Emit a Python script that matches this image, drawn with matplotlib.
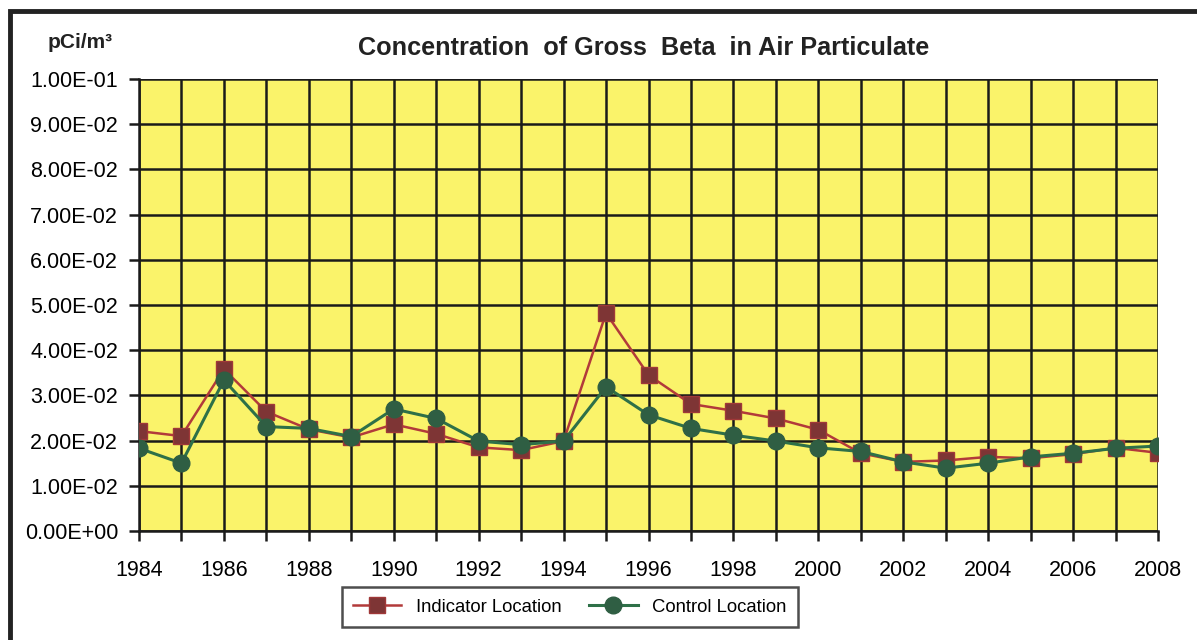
"""Gross beta in air particulate, indicator vs control."""

import matplotlib

matplotlib.use("Agg")
from matplotlib import pyplot as plt  # noqa: E402
from matplotlib.patches import Rectangle  # noqa: E402

years = list(range(1984, 2009))
indicator = [
    0.0221, 0.0210, 0.0358, 0.0264, 0.0225, 0.0207, 0.0236, 0.0215, 0.0185, 0.0179,
    0.0199, 0.0482, 0.0345, 0.0281, 0.0266, 0.0249, 0.0224, 0.0172, 0.0153, 0.0156,
    0.0164, 0.0161, 0.0170, 0.0184, 0.0173,
]
control = [
    0.0183, 0.0150, 0.0334, 0.0231, 0.0227, 0.0209, 0.0270, 0.0249, 0.0199, 0.0191,
    0.0199, 0.0319, 0.0257, 0.0227, 0.0212, 0.0199, 0.0184, 0.0176, 0.0153, 0.0139,
    0.0150, 0.0164, 0.0172, 0.0183, 0.0188,
]
y_ticks = [i / 100 for i in range(11)]
y_labels = ["0.00E+00"] + [f"{i}.00E-02" for i in range(1, 10)] + ["1.00E-01"]
x_labels = list(range(1984, 2009, 2))

plt.rcParams["font.family"] = ["Liberation Sans", "DejaVu Sans"]

W, H = 1197, 640
fig = plt.figure(figsize=(W / 100, H / 100), dpi=100)
fig.patch.set_facecolor("white")

# outer frame (runs off the right and bottom edges like the scan)
top = 1 - 11 / H
fig.patches.append(
    Rectangle((10 / W, -0.05), 1.1, top + 0.05, transform=fig.transFigure,
              fill=False, edgecolor="#222222", linewidth=3.5, zorder=0)
)

ax = fig.add_axes([139 / W, 1 - 531 / H, (1158 - 139) / W, (531 - 79) / H])
ax.set_facecolor("#FAF36A")

ax.plot(years, indicator, color="#B23A3A", linewidth=1.8, marker="s", markersize=11,
        markerfacecolor="#7E3535", markeredgecolor="#A03838", label="Indicator Location", zorder=3)
ax.plot(years, control, color="#2E7048", linewidth=2.2, marker="o", markersize=12,
        markerfacecolor="#2F5E43", markeredgecolor="#2F5E43", label="Control Location", zorder=4)

ax.set_xlim(1984, 2008)
ax.set_ylim(0, 0.1)
ax.set_xticks(years)
ax.set_xticklabels([str(y) if y in x_labels else "" for y in years], fontsize=15.5)
ax.set_yticks(y_ticks)
ax.set_yticklabels(y_labels, fontsize=15.5)
ax.grid(True, color="#1a1a1a", linewidth=1.8)
ax.set_axisbelow(True)
ax.tick_params(axis="both", direction="out", length=7, width=1.8, color="#1a1a1a")
ax.tick_params(axis="x", pad=14)
ax.tick_params(axis="y", pad=8)
for side in ("top", "right"):
    ax.spines[side].set_visible(False)
for side in ("left", "bottom"):
    ax.spines[side].set_linewidth(1.8)
    ax.spines[side].set_color("#1a1a1a")

fig.text(644 / W, 1 - 48 / H, "Concentration  of Gross  Beta  in Air Particulate",
         ha="center", va="center", fontsize=18.2, fontweight="bold", color="#222222")
fig.text(80 / W, 1 - 42 / H, "pCi/m³", ha="center", va="center", fontsize=15,
         fontweight="bold", color="#222222")

leg = fig.legend(loc="center", bbox_to_anchor=(570 / W, 1 - 607 / H), ncol=2, fontsize=13.3,
                 frameon=True, fancybox=False, edgecolor="#222222", handlelength=2.6,
                 columnspacing=1.5, borderpad=0.6)
leg.get_frame().set_linewidth(1.8)

fig.savefig("out.png", dpi=100)
